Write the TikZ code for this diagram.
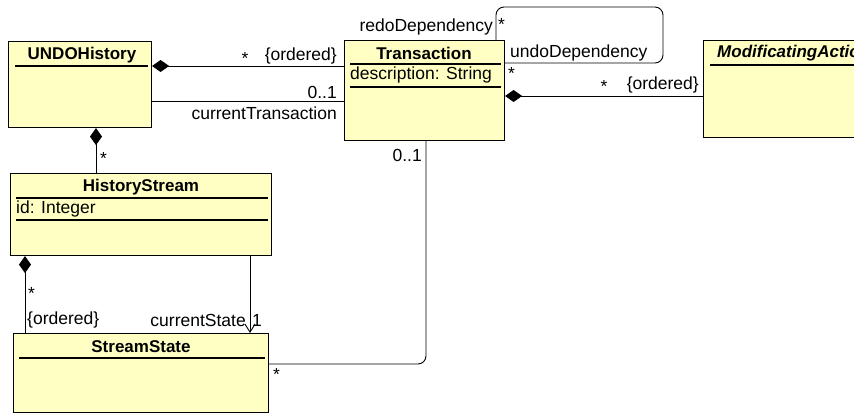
\documentclass[tikz,border=0pt]{standalone}
\usepackage{fontspec}
\setmainfont{Liberation Sans}
\usetikzlibrary{arrows.meta}
\definecolor{classfill}{RGB}{255,255,196}

\begin{document}
\begin{tikzpicture}[x=1pt,y=-1pt,
    classbox/.style={draw, line width=1.1pt, fill=classfill, anchor=north west, inner sep=0pt},
    title/.style={font=\fontsize{17}{20}\selectfont\bfseries, inner sep=0pt},
    lbl/.style={font=\fontsize{17.5}{20}\selectfont, inner sep=0pt},
    comp/.style={{Diamond[length=17pt,width=12pt]}-},
    assoc/.style={line width=0.9pt}]
    \useasboundingbox (0,0) rectangle (854,414);
    \clip (0,0) rectangle (854,414);

    % classes
    \node[classbox, minimum width=143pt, minimum height=86pt] (undo) at (8,41) {};
    \node[classbox, minimum width=160pt, minimum height=100pt] (trans) at (344,40) {};
    \node[classbox, minimum width=200pt, minimum height=97pt] (mod) at (703,40) {};
    \node[classbox, minimum width=261pt, minimum height=82pt] (hist) at (10,173) {};
    \node[classbox, minimum width=255pt, minimum height=79pt] (state) at (13,333) {};

    \node[title] (undoname) at (82,55) {UNDOHistory};
    \node[title] (transname) at (424,53) {Transaction};
    \node[title, anchor=west] (modname) at (717,53) {\itshape ModificatingAction};
    \node[title] (histname) at (141,187) {HistoryStream};
    \node[title] (statename) at (141,347) {StreamState};
    \node[lbl, anchor=west] (descattr) at (350,75) {description: String};
    \node[lbl, anchor=west] (idattr) at (16,209) {id: Integer};

    \foreach \l/\r/\y in {15/148/66, 350/501/64, 350/501/87, 710/860/65,
                          16/268/198, 16/268/220, 19/265/358}
      \draw[line width=1.1pt] (\l,\y) -- (\r,\y);

    % associations
    \draw[assoc, comp] (undo.east |- 0,66) -- (trans.west |- 0,66);
    \draw[assoc] (undo.east |- 0,101) -- (trans.west |- 0,101);
    \draw[assoc, comp] (undo.south -| 96,0) -- (hist.north -| 96,0);
    \draw[assoc, rounded corners=8pt] (trans.north -| 496,0) |- (663,7) |- (trans.east |- 0,63);
    \draw[assoc, comp] (trans.east |- 0,96) -- (mod.west |- 0,96);
    \draw[assoc, comp] (hist.south -| 25,0) -- (state.north -| 25,0);
    \draw[assoc, -{Straight Barb[length=8pt,width=10pt]}] (hist.south -| 250,0) -- (state.north -| 250,0);
    \draw[assoc, rounded corners=8pt] (trans.south -| 426,0) |- (state.east |- 0,364);

    % role names and multiplicities
    \node[lbl] (m1) at (245,58) {*};
    \node[lbl, anchor=east] (o1) at (337,56) {\{ordered\}};
    \node[lbl, anchor=east] (m2) at (337,92) {0..1};
    \node[lbl, anchor=east] (r2) at (337,113) {currentTransaction};
    \node[lbl, anchor=west] (m3) at (100,158) {*};
    \node[lbl, anchor=east] (r4) at (493,27) {redoDependency};
    \node[lbl, anchor=west] (m4) at (498,24) {*};
    \node[lbl, anchor=west] (r5) at (510,53) {undoDependency};
    \node[lbl, anchor=west] (m5) at (508,73) {*};
    \node[lbl] (m6) at (604,86) {*};
    \node[lbl, anchor=east] (o6) at (699,85) {\{ordered\}};
    \node[lbl, anchor=east] (m7) at (422,155) {0..1};
    \node[lbl, anchor=west] (m8) at (273,374) {*};
    \node[lbl, anchor=west] (m9) at (28,293) {*};
    \node[lbl, anchor=west] (o9) at (27,320) {\{ordered\}};
    \node[lbl, anchor=east] (r10) at (246,320) {currentState};
    \node[lbl, anchor=west] (m10) at (252,320) {1};
\end{tikzpicture}
\end{document}
